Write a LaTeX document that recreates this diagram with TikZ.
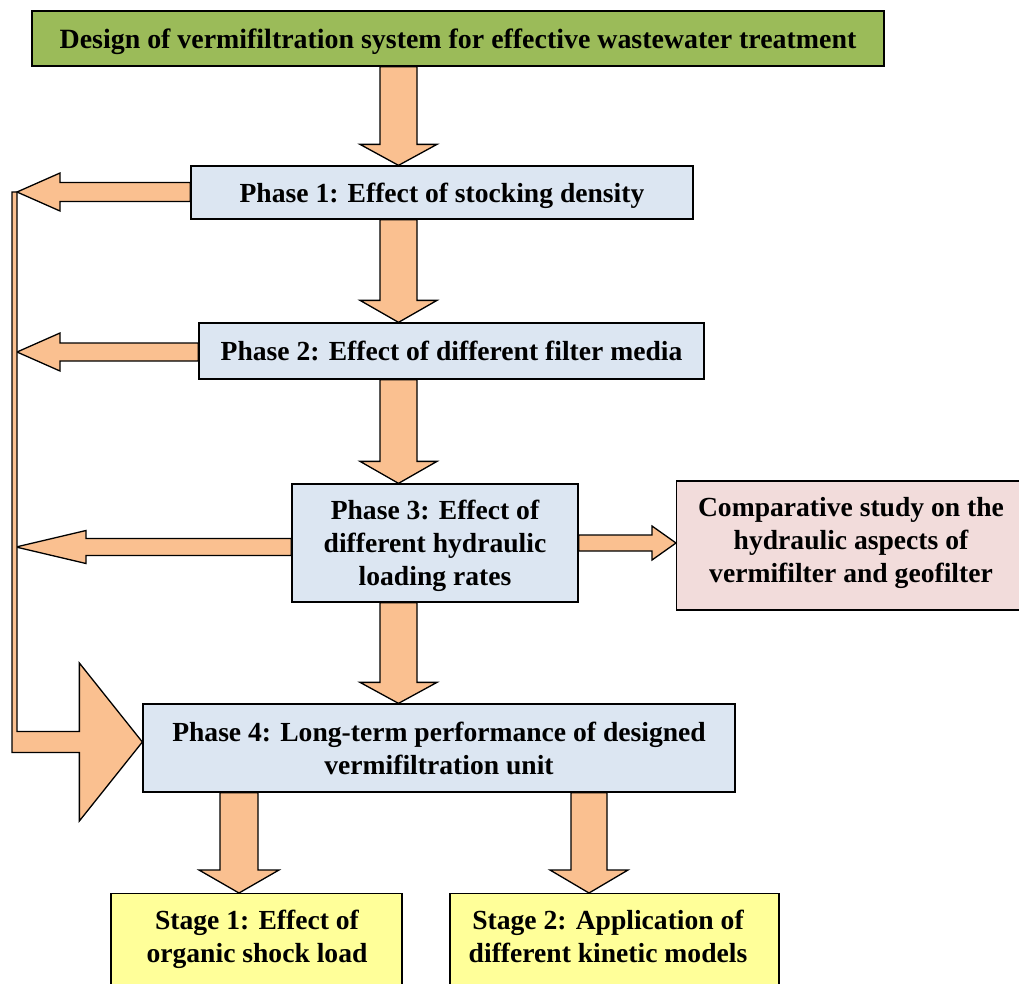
\documentclass[tikz,border=0pt]{standalone}
\usepackage{fontspec}
\setmainfont{Liberation Serif}
\usetikzlibrary{calc}
\definecolor{titlegreen}{RGB}{155,187,89}
\definecolor{phaseblue}{RGB}{220,230,242}
\definecolor{arrowc}{RGB}{250,192,144}
\definecolor{comppink}{RGB}{242,220,219}
\definecolor{stageyellow}{RGB}{255,255,153}
\newcommand\blkdown[5]{\filldraw[blk] let \p1=(#1), \p2=(#2) in (\x1-#3,\y1) -- (\x1+#3,\y1) -- (\x1+#3,\y2+#5) -- (\x1+#4,\y2+#5) -- (\x1,\y2) -- (\x1-#4,\y2+#5) -- (\x1-#3,\y2+#5) -- cycle;}
\newcommand\blkleft[5]{\filldraw[blk] let \p1=(#1), \p2=(#2) in (\x1,\y1+#3) -- (\x2+#5,\y1+#3) -- (\x2+#5,\y1+#4) -- (\x2,\y1) -- (\x2+#5,\y1-#4) -- (\x2+#5,\y1-#3) -- (\x1,\y1-#3) -- cycle;}
\newcommand\blkright[5]{\filldraw[blk] let \p1=(#1), \p2=(#2) in (\x1,\y1+#3) -- (\x2-#5,\y1+#3) -- (\x2-#5,\y1+#4) -- (\x2,\y1) -- (\x2-#5,\y1-#4) -- (\x2-#5,\y1-#3) -- (\x1,\y1-#3) -- cycle;}
\begin{document}
\begin{tikzpicture}[x=1pt,y=-1pt,
  box/.style={draw=black, line width=1.3pt, inner sep=0pt, align=center, text depth=0pt,
    font=\bfseries\fontsize{27.6}{33}\selectfont},
  txt/.style={inner sep=0pt, align=center, text depth=0pt, font=\bfseries\fontsize{27.6}{33}\selectfont},
  blk/.style={fill=arrowc, draw=black, line width=1.3pt, line join=miter}]
\useasboundingbox (0,0) rectangle (1019,983);
% boxes
\node[box, fill=titlegreen, minimum width=852, minimum height=55, font=\bfseries\fontsize{27.9}{33}\selectfont] (title) at (458,38.5)
  {Design of vermifiltration system for effective wastewater treatment};
\node[box, fill=phaseblue, minimum width=502, minimum height=53] (p1) at (442,192.5)
  {Phase 1: Effect of stocking density};
\node[box, fill=phaseblue, minimum width=505, minimum height=56] (p2) at (451.5,351)
  {Phase 2: Effect of different filter media};
\node[box, fill=phaseblue, minimum width=286, minimum height=118] (p3) at (435,543)
  {Phase 3: Effect of\\different hydraulic\\loading rates};
\node[box, fill=comppink, minimum width=354, minimum height=129, anchor=west] (comp) at (676,545.5) {};
\node[txt] (compt) at (851,540) {Comparative study on the\\hydraulic aspects of\\vermifilter and geofilter};
\node[box, fill=phaseblue, minimum width=592, minimum height=88] (p4) at (439,748)
  {Phase 4: Long-term performance of designed\\vermifiltration unit};
\node[box, fill=stageyellow, minimum width=291, minimum height=120, anchor=north] (s1) at (256.5,893) {};
\node[txt] (s1t) at (257,936.5) {Stage 1: Effect of\\organic shock load};
\node[box, fill=stageyellow, minimum width=329, minimum height=120, anchor=north] (s2) at (614.5,893) {};
\node[txt] (s2t) at (608,936.5) {Stage 2: Application of\\different kinetic models};
% helper coordinates
\coordinate (cx) at (398.5,0);
\coordinate (t1) at (17,192);
\coordinate (t2) at (17,352);
\coordinate (t3) at (16,547);
\coordinate (rt) at (0,543);
\coordinate (bt) at ($(p4.west)+(0,-6)$);
\coordinate (sa) at (239,0);
\coordinate (sb) at (589,0);
% down arrows
\blkdown{title.south -| cx}{p1.north -| cx}{18.5pt}{38.5pt}{21pt}
\blkdown{p1.south -| cx}{p2.north -| cx}{18.5pt}{38.5pt}{22pt}
\blkdown{p2.south -| cx}{p3.north -| cx}{18.5pt}{38.5pt}{22pt}
\blkdown{p3.south -| cx}{p4.north -| cx}{18.5pt}{38.5pt}{21pt}
\blkdown{p4.south -| sa}{s1.north -| sa}{19pt}{40pt}{23pt}
\blkdown{p4.south -| sb}{s2.north -| sb}{18pt}{39pt}{23pt}
% left arrows
\blkleft{p1.west |- t1}{t1}{9.5pt}{19pt}{43pt}
\blkleft{p2.west |- t2}{t2}{9pt}{19pt}{43pt}
\blkleft{p3.west |- t3}{t3}{8.5pt}{16.5pt}{70pt}
% right arrow
\blkright{p3.east |- rt}{comp.west |- rt}{8pt}{17pt}{24pt}
% feedback bar and big arrow into phase 4
\filldraw[blk] let \p1=(t1), \p2=(bt) in (\x1-5pt,\y1) -- (\x1,\y1) -- (\x1,\y2+10.5pt)
  -- (\x2-63pt,\y2+10.5pt) -- (\x2-63pt,\y2+79pt) -- (\x2,\y2) -- (\x2-63pt,\y2-79pt)
  -- (\x2-63pt,\y2-10.5pt) -- (\x1-5pt,\y2-10.5pt) -- cycle;
\end{tikzpicture}
\end{document}
